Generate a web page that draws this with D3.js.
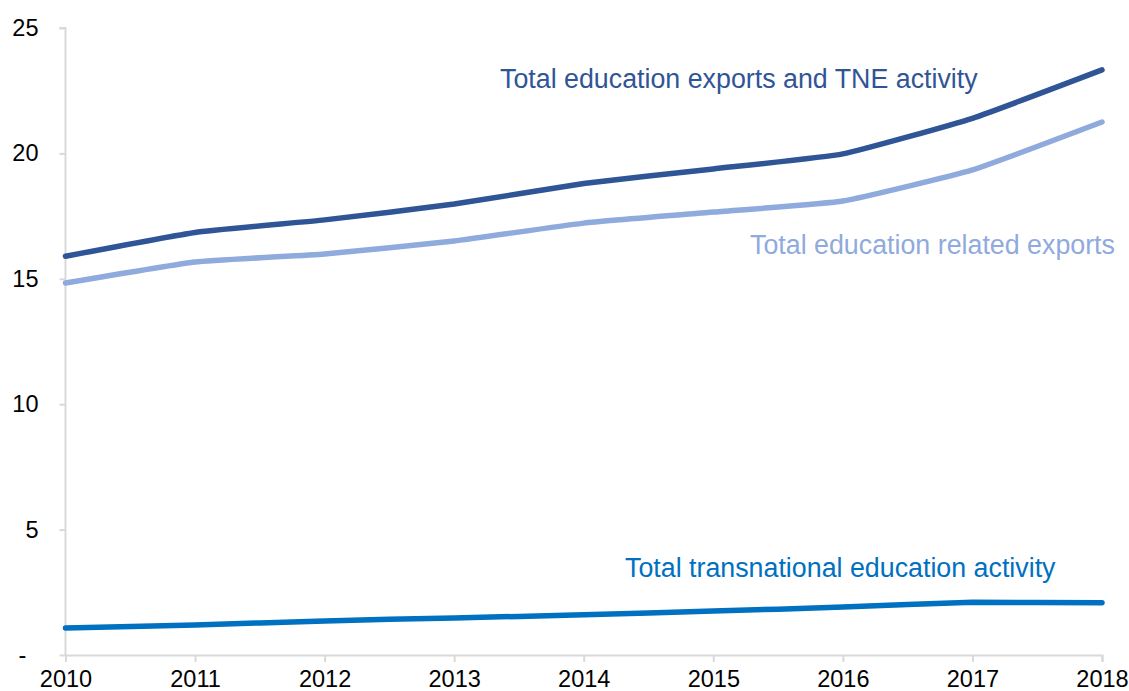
<!DOCTYPE html>
<html>
<head>
<meta charset="utf-8">
<script src="https://cdn.jsdelivr.net/npm/d3@7"></script>
<style>
  body { margin: 0; background: #fff; }
  svg { font-family: "Liberation Sans", Arial, sans-serif; }
</style>
</head>
<body>
<script>
const years = [2010, 2011, 2012, 2013, 2014, 2015, 2016, 2017, 2018]
const totalExportsTne = [15.9, 16.85, 17.35, 17.98, 18.8, 19.38, 19.98, 21.4, 23.33]
const relatedExports = [14.83, 15.67, 15.99, 16.51, 17.22, 17.66, 18.1, 19.34, 21.25]
const transnational = [1.08, 1.2, 1.36, 1.48, 1.6, 1.75, 1.91, 2.1, 2.08]
const yTicks = [0, 5, 10, 15, 20, 25]

const series = [
  { name: "Total education exports and TNE activity", values: totalExportsTne, color: "#2F5597", lx: 500, ly: 88 },
  { name: "Total education related exports", values: relatedExports, color: "#8FAADC", lx: 750, ly: 254 },
  { name: "Total transnational education activity", values: transnational, color: "#0070C0", lx: 625, ly: 577 }
]

const w = 1129
const h = 691

const svg = d3.select("body")
  .append("svg")
  .attr("width", w)
  .attr("height", h)

const xScale = d3.scaleLinear()
  .domain([2010, 2018])
  .range([65.5, 1102])

const yScale = d3.scaleLinear()
  .domain([0, 25])
  .range([655, 28])

const yAxis = d3.axisLeft(yScale)
  .tickValues(yTicks)
  .tickSize(6)
  .tickPadding(21)
  .tickFormat(d => d === 0 ? "-" : d)

const xAxis = d3.axisBottom(xScale)
  .tickValues(years)
  .tickSize(7)
  .tickPadding(8)
  .tickFormat(d3.format("d"))

const gy = svg.append("g")
  .attr("transform", "translate(65.5, 0)")
  .call(yAxis)

const gx = svg.append("g")
  .attr("transform", "translate(0, 655)")
  .call(xAxis)

;[gx, gy].forEach(g => {
  g.select(".domain").attr("stroke", "#d9d9d9").attr("stroke-width", 2)
  g.selectAll(".tick line").attr("stroke", "#d9d9d9").attr("stroke-width", 2)
  g.selectAll("text").attr("fill", "#000").style("font-size", "23.5px")
})
gy.select(".domain").attr("d", "M-6,28H0V655")

// the zero label is a dash sitting further left, like an accounting format
gy.selectAll(".tick text")
  .filter(d => d === 0)
  .attr("text-anchor", "start")
  .attr("x", -47)

const line = d3.line()
  .x((d, i) => xScale(years[i]))
  .y(d => yScale(d))
  .curve(d3.curveCardinal.tension(0.6))

series.forEach(s => {
  svg.append("path")
    .datum(s.values)
    .attr("fill", "none")
    .attr("stroke", s.color)
    .attr("stroke-width", 5.5)
    .attr("stroke-linecap", "round")
    .attr("d", line)

  svg.append("text")
    .attr("x", s.lx)
    .attr("y", s.ly)
    .attr("fill", s.color)
    .style("font-size", "26.8px")
    .text(s.name)
})
</script>
</body>
</html>
